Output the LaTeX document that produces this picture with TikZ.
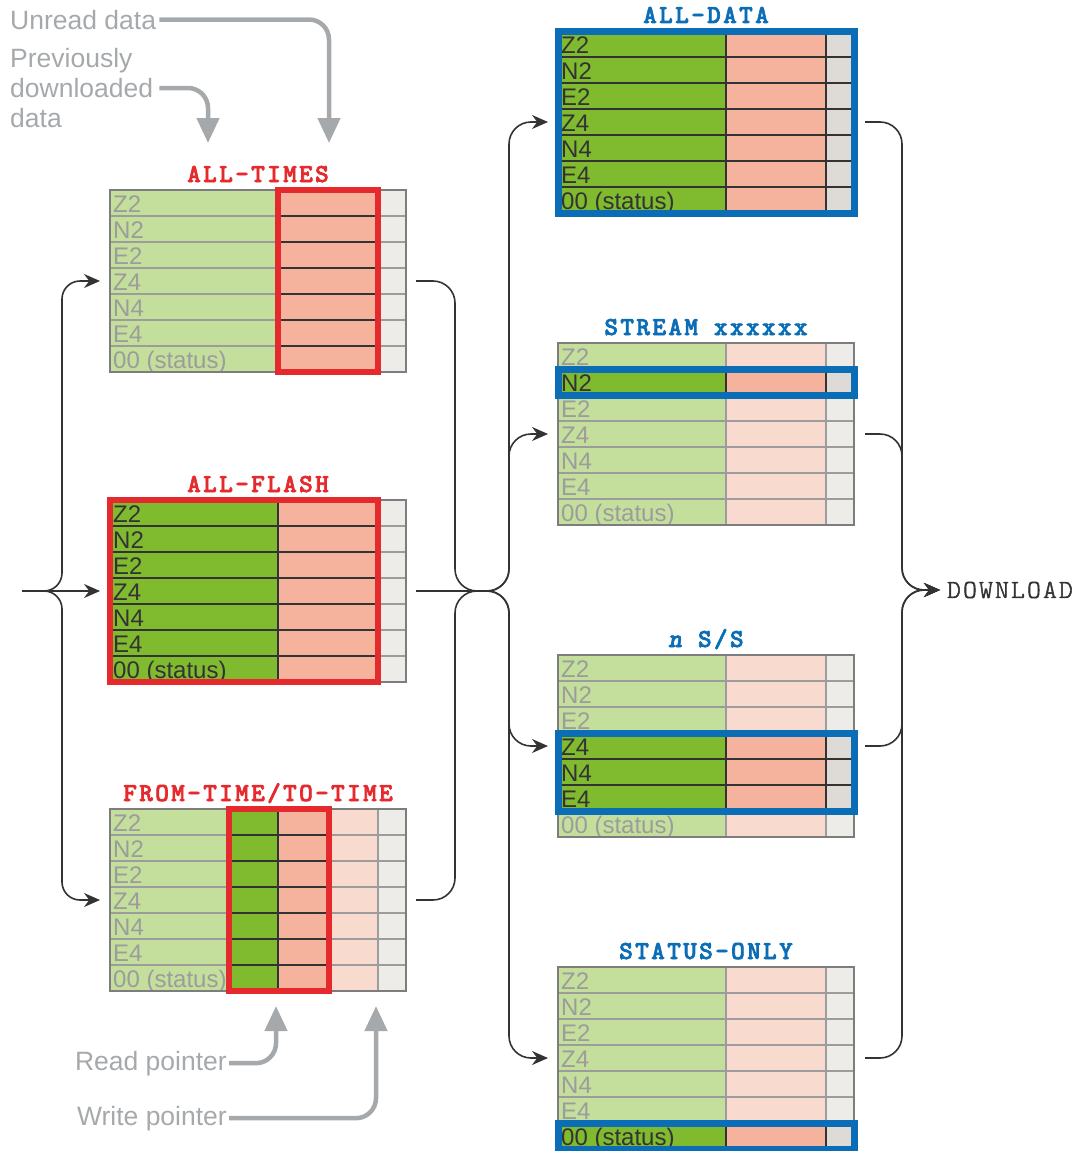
\documentclass[tikz,border=0pt]{standalone}
\usepackage{fontspec}
\setmainfont{Liberation Sans}
\newfontfamily\titlefont{lmmonolt10-bold}[Extension=.otf,ItalicFont=lmmonolt10-boldoblique,LetterSpace=9,FakeBold=2.5]
\newfontfamily\flowfont{lmmonolt10-regular}[Extension=.otf,LetterSpace=9,FakeBold=2]
\usetikzlibrary{positioning,arrows.meta}

\definecolor{hotgreen}{HTML}{80BA2E}
\definecolor{coolgreen}{HTML}{C4DE9C}
\definecolor{hotsalmon}{HTML}{F5B39E}
\definecolor{coolsalmon}{HTML}{F9DACF}
\definecolor{hotgrey}{HTML}{DEDBD6}
\definecolor{coolgrey}{HTML}{EDECE9}
\definecolor{gridgrey}{HTML}{9C9C9C}
\definecolor{inkgrey}{HTML}{333333}
\definecolor{notegrey}{HTML}{A6A9AB}
\definecolor{modered}{HTML}{E52A2E}
\definecolor{modeblue}{HTML}{0B6DB6}

\newcommand{\chanlist}{Z2,N2,E2,Z4,N4,E4,00 (status)}

\newcommand{\basetable}[1]{%
  \begin{scope}[shift={(#1.north west)}]
    \fill[coolgreen] (0,0) rectangle (168,182);
    \fill[coolsalmon] (168,0) rectangle (268,182);
    \fill[coolgrey] (268,0) rectangle (296,182);
    \foreach \r in {1,...,6}
      \draw[gridline] (0,26*\r) -- (296,26*\r);
    \draw[gridline] (168,0) -- (168,182) (268,0) -- (268,182);
    \foreach \lab [count=\i] in \chanlist
      \node[rowtext,text=gridgrey] (#1-\i) at (3,26*\i-3.5) {\lab};
    \draw[tableframe] (0,0) rectangle (296,182);
  \end{scope}}

\newcommand{\hotcells}[6]{%
  \begin{scope}[shift={(#1.north west)}]
    \foreach \r in {#4,...,#5}
      \draw[hotgrid,fill=#6] (#2,26*\r-26) rectangle (#3,26*\r);
  \end{scope}}

\newcommand{\hotlabels}[3]{%
  \begin{scope}[shift={(#1.north west)}]
    \foreach \lab [count=\i] in \chanlist {
      \ifnum\i<#2\relax\else\ifnum\i>#3\relax\else
        \node[rowtext,text=inkgrey] (#1-hot-\i) at (3,26*\i-3.5) {\lab};
      \fi\fi}
  \end{scope}}

\newcommand{\modeframe}[3]{%
  \begin{scope}[shift={(#1.north west)}]
    \draw[#2] #3;
  \end{scope}}

\begin{document}
\begin{tikzpicture}[
x=1pt,y=-1pt,
>={Stealth[length=16pt,width=14pt]},
tablebox/.style={
minimum width=296pt,
minimum height=182pt,
inner sep=0pt,
outer sep=0pt,
anchor=north west},
gridline/.style={draw=gridgrey,line width=1.1pt},
hotgrid/.style={draw=inkgrey,line width=1.2pt},
tableframe/.style={draw=gridgrey!80!black,line width=1.4pt},
rowtext/.style={anchor=base west,inner sep=0pt,font=\fontsize{24}{26}\selectfont},
redframe/.style={draw=modered,line width=6.5pt},
blueframe/.style={draw=modeblue,line width=7pt},
titlered/.style={anchor=base,inner sep=0pt,text=modered,font=\fontsize{26}{30}\titlefont},
titleblue/.style={titlered,text=modeblue},
note/.style={inner sep=0pt,text=notegrey,font=\fontsize{26.5}{30}\selectfont},
notearrow/.style={draw=notegrey,line width=4.5pt,-{Triangle[length=25pt,width=22pt]},rounded corners=20pt},
flow/.style={draw=inkgrey,line width=1.6pt,rounded corners=22pt}
]
\useasboundingbox (0,0) rectangle (1081,1151);

\node[tablebox] (alltimes) at (110,190) {};
\node[tablebox,below=128pt of alltimes] (allflash) {};
\node[tablebox,below=127pt of allflash] (fromtime) {};

\node[tablebox] (alldata) at (558,31) {};
\node[tablebox,below=130pt of alldata] (stream) {};
\node[tablebox,below=130pt of stream] (nss) {};
\node[tablebox,below=130pt of nss] (statusonly) {};

\foreach \t in {alltimes,allflash,fromtime,alldata,stream,nss,statusonly}
  \basetable{\t};

\hotcells{alltimes}{168}{268}{1}{7}{hotsalmon}
\modeframe{alltimes}{redframe}{(168,0) rectangle (268,182)}

\hotcells{allflash}{0}{168}{1}{7}{hotgreen}
\hotcells{allflash}{168}{268}{1}{7}{hotsalmon}
\hotlabels{allflash}{1}{7}
\modeframe{allflash}{redframe}{(0,0) rectangle (268,182)}

\hotcells{fromtime}{119}{168}{1}{7}{hotgreen}
\hotcells{fromtime}{168}{219}{1}{7}{hotsalmon}
\modeframe{fromtime}{redframe}{(119,0) rectangle (219,182)}

\hotcells{alldata}{0}{168}{1}{7}{hotgreen}
\hotcells{alldata}{168}{268}{1}{7}{hotsalmon}
\hotcells{alldata}{268}{296}{1}{7}{hotgrey}
\hotlabels{alldata}{1}{7}
\modeframe{alldata}{blueframe}{(0,0) rectangle (296,182)}

\hotcells{stream}{0}{168}{2}{2}{hotgreen}
\hotcells{stream}{168}{268}{2}{2}{hotsalmon}
\hotcells{stream}{268}{296}{2}{2}{hotgrey}
\hotlabels{stream}{2}{2}
\modeframe{stream}{blueframe}{(0,26) rectangle (296,52)}

\hotcells{nss}{0}{168}{4}{6}{hotgreen}
\hotcells{nss}{168}{268}{4}{6}{hotsalmon}
\hotcells{nss}{268}{296}{4}{6}{hotgrey}
\hotlabels{nss}{4}{6}
\modeframe{nss}{blueframe}{(0,78) rectangle (296,156)}

\hotcells{statusonly}{0}{168}{7}{7}{hotgreen}
\hotcells{statusonly}{168}{268}{7}{7}{hotsalmon}
\hotcells{statusonly}{268}{296}{7}{7}{hotgrey}
\hotlabels{statusonly}{7}{7}
\modeframe{statusonly}{blueframe}{(0,156) rectangle (296,182)}

\node[titlered] (alltimes-title) at ([yshift=8pt]alltimes.north) {ALL-TIMES};
\node[titlered] (allflash-title) at ([yshift=8pt]allflash.north) {ALL-FLASH};
\node[titlered] (fromtime-title) at ([yshift=8pt]fromtime.north) {FROM-TIME/TO-TIME};
\node[titleblue] (alldata-title) at ([yshift=8pt]alldata.north) {ALL-DATA};
\node[titleblue] (stream-title) at ([yshift=8pt]stream.north) {STREAM xxxxxx};
\node[titleblue] (nss-title) at ([yshift=8pt]nss.north) {\itshape n\upshape{} S/S};
\node[titleblue] (statusonly-title) at ([yshift=8pt]statusonly.north) {STATUS-ONLY};

\node[anchor=west,inner sep=0pt,text=inkgrey,font=\fontsize{26}{30}\flowfont] (download) at (947,590) {DOWNLOAD};

\coordinate (input) at ([xshift=-88pt]allflash.west);
\coordinate (fork) at ([xshift=-66pt]allflash.west);
\coordinate (hub) at ([xshift=76pt]allflash.east);

\draw[flow,->] (input) -- ([xshift=-10pt]allflash.west);
\draw[flow,->,rounded corners=18pt] (fork) -| ([xshift=-48pt]alltimes.west) -- ([xshift=-10pt]alltimes.west);
\draw[flow,->,rounded corners=18pt] (fork) -| ([xshift=-48pt]fromtime.west) -- ([xshift=-10pt]fromtime.west);

\draw[flow] ([xshift=10pt]allflash.east) -- (hub);
\draw[flow] ([xshift=10pt]alltimes.east) -| ([xshift=-27pt]hub) -- (hub);
\draw[flow] ([xshift=10pt]fromtime.east) -| ([xshift=-27pt]hub) -- (hub);

\foreach \t in {alldata,stream,nss,statusonly} {
  \draw[flow,->] (hub) -| ([xshift=-49pt]\t.west) -- ([xshift=-10pt]\t.west);
  \draw[flow,->] ([xshift=11pt]\t.east) -| ([xshift=-45pt]download.west) -- ([xshift=-7pt]download.west);
}

\node[note,anchor=base west] (unread) at (10,29) {Unread data};
\node[note,anchor=west,align=left] (prevdl) at (10,88) {Previously\\downloaded\\data};
\coordinate (unreadtip) at (329,143);
\coordinate (prevtip) at (208,143);
\draw[notearrow] ([xshift=3pt]unread.east) -| (unreadtip);
\draw[notearrow] ([xshift=6pt]prevdl.east) -| (prevtip);

\node[note,anchor=base east] (readptr) at (227,1070) {Read pointer};
\node[note,anchor=base east] (writeptr) at (227,1125) {Write pointer};
\coordinate (readtip) at (276,1006);
\coordinate (writetip) at (376,1006);
\draw[notearrow] ([xshift=2pt]readptr.east) -| (readtip);
\draw[notearrow] ([xshift=2pt]writeptr.east) -| (writetip);

\end{tikzpicture}
\end{document}
